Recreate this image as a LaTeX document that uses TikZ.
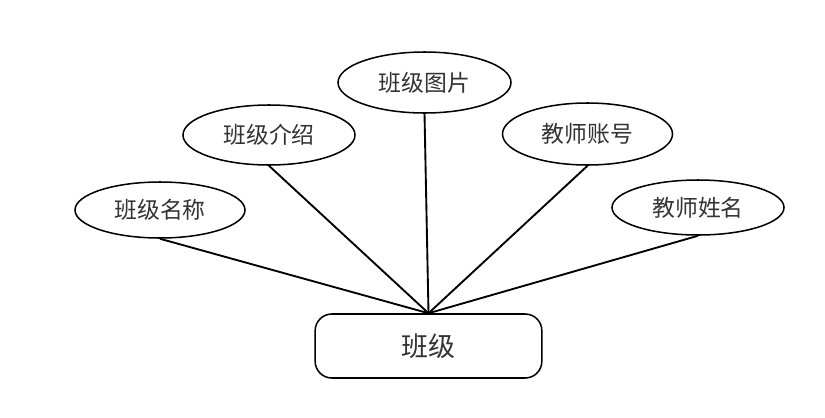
\documentclass[tikz,border=0pt]{standalone}
\usepackage{fontspec}
\setmainfont{Noto Sans CJK SC}
\usetikzlibrary{shapes.geometric}

\begin{document}
\begin{tikzpicture}[x=0.03cm,y=-0.03cm,
  attr/.style={ellipse,draw=black,line width=1.3pt,inner sep=0pt,
    font=\fontsize{19.5}{22}\selectfont,text=black!80},
  entity/.style={draw=black,line width=1.3pt,rounded corners=0.5cm,
    minimum width=6.8cm,minimum height=1.92cm,inner sep=0pt,
    font=\fontsize{23}{26}\selectfont,text=black!80},
  link/.style={draw=black,line width=1.6pt},
]
\useasboundingbox (0,0) rectangle (825,417);
\node[entity] (bj) at (428.5,346) {班级};
\node[attr,minimum width=5.1cm,minimum height=1.68cm] (mc) at (160,210) {班级名称};
\node[attr,minimum width=5.16cm,minimum height=1.8cm] (js) at (269,135) {班级介绍};
\node[attr,minimum width=5.19cm,minimum height=1.83cm] (tp) at (424.5,82.5) {班级图片};
\node[attr,minimum width=5.1cm,minimum height=1.86cm] (zh) at (587.5,134) {教师账号};
\node[attr,minimum width=5.16cm,minimum height=1.65cm] (xm) at (698,207.5) {教师姓名};
\draw[link] (mc.south) -- (bj.north);
\draw[link] (js.south) -- (bj.north);
\draw[link] (tp.south) -- (bj.north);
\draw[link] (zh.south) -- (bj.north);
\draw[link] (xm.south) -- (bj.north);
\end{tikzpicture}
\end{document}
